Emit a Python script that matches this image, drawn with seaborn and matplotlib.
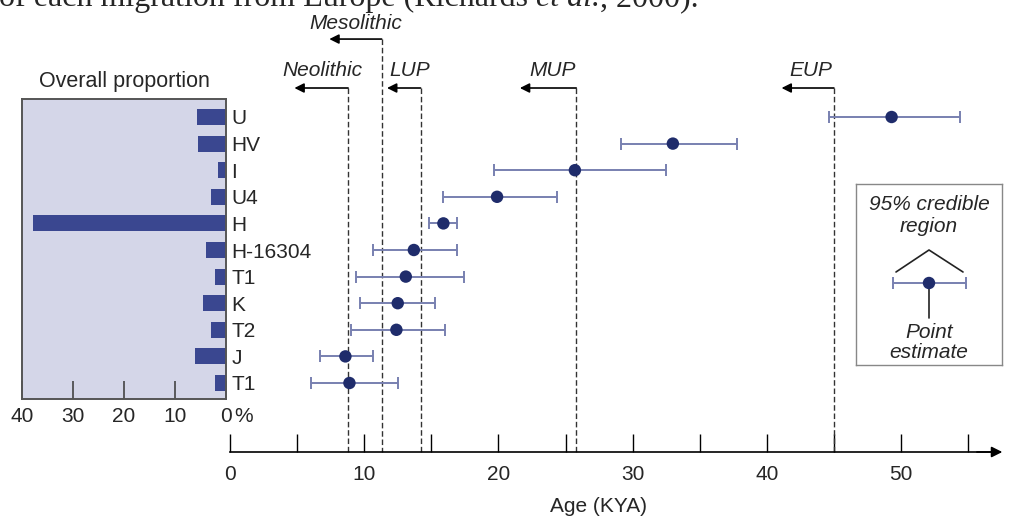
import matplotlib
matplotlib.use("Agg")
import matplotlib.pyplot as plt
from matplotlib.ticker import FixedLocator
import seaborn as sns
import numpy as np
import pandas as pd

# ---------------- data ----------------
haplogroups = ["U", "HV", "I", "U4", "H", "H-16304", "T1", "K", "T2", "J", "T1"]
proportion = [5.7, 5.4, 1.6, 2.9, 37.8, 4.0, 2.2, 4.6, 2.9, 6.1, 2.2]
age_point = [49.3, 33.0, 25.7, 19.9, 15.9, 13.7, 13.1, 12.5, 12.4, 8.6, 8.9]
age_low = [44.6, 29.1, 19.7, 15.9, 14.8, 10.65, 9.4, 9.7, 9.0, 6.7, 6.0]
age_high = [54.4, 37.8, 32.5, 24.4, 16.9, 16.9, 17.4, 15.3, 16.0, 10.65, 12.5]

periods = ["Neolithic", "Mesolithic", "LUP", "MUP", "EUP"]
period_start = [8.8, 11.3, 14.2, 25.8, 45.0]

prop_ticks = [40, 30, 20, 10, 0]
age_major = [0, 10, 20, 30, 40, 50]
age_minor = [5, 15, 25, 35, 45, 55]

# ---------------- style ----------------
sns.set_theme(style="white")
plt.rcParams["font.family"] = ["Liberation Sans", "DejaVu Sans"]

bar_color = "#3a4790"
panel_bg = "#d4d6e8"
point_color = "#1f2c6b"
err_color = "#7880b0"
dash_color = "#333333"

W, H = 1012, 518
fig = plt.figure(figsize=(W / 100, H / 100), dpi=100)
fig.patch.set_facecolor("white")


def fx(px):
    return px / W


def fy(py):
    return 1 - py / H


row_y0, row_dy = 117.0, 26.6
n = len(haplogroups)
idx = np.arange(n)

# ---------------- left panel ----------------
axL = fig.add_axes([fx(22), fy(399), (226 - 22) / W, (399 - 99) / H])
dfL = pd.DataFrame({"key": [str(i) for i in idx], "prop": proportion})
sns.barplot(data=dfL, x="prop", y="key", order=list(dfL["key"]), color=bar_color,
            saturation=1, width=0.6, orient="h", ax=axL, edgecolor="none",
            linewidth=0)
axL.set_facecolor(panel_bg)
axL.set_xlim(40, 0)
axL.set_ylim((399 - row_y0) / row_dy, (99 - row_y0) / row_dy)
for s in axL.spines.values():
    s.set_visible(True)
    s.set_color("#555555")
    s.set_linewidth(1.4)
axL.yaxis.tick_right()
axL.set_yticks(idx)
axL.set_yticklabels(haplogroups, fontsize=15)
axL.tick_params(axis="y", length=0, pad=4, right=True, left=False)
axL.set_xticks(prop_ticks)
axL.set_xticklabels([str(t) for t in prop_ticks])
axL.tick_params(axis="x", direction="in", length=13, width=1.2, color="#444444",
                labelsize=15, pad=6, bottom=True)
axL.set_xlabel("")
axL.set_ylabel("")
axL.set_title("Overall proportion", fontsize=15.5, pad=9)
axL.text(-1.6, -0.028, "%", transform=axL.get_xaxis_transform(), fontsize=15,
         ha="left", va="top")

# ---------------- right panel ----------------
axR = fig.add_axes([fx(230), fy(452), (1000 - 230) / W, (452 - 20) / H])
axR.patch.set_alpha(0)
xmax = (1000 - 230) / 13.42
axR.set_xlim(0, xmax)
ybot = (452 - row_y0) / row_dy
ytop = (20 - row_y0) / row_dy
axR.set_ylim(ybot, ytop)

# dashed period lines, arrows and labels
arrow_len = [4.0, 3.9, 2.5, 4.2, 3.9]
arrow_y = [-1.09, -2.93, -1.09, -1.09, -1.09]
label_dx = [-1.9, -1.9, -0.8, -1.8, -1.7]
label_y = [-1.74, -3.53, -1.74, -1.74, -1.74]
for name, x0, L, ay, ldx, ly in zip(periods, period_start, arrow_len, arrow_y,
                                    label_dx, label_y):
    axR.plot([x0, x0], [ay, ybot], color=dash_color, lw=1.0,
             dashes=(4, 2), clip_on=False, zorder=1)
    axR.annotate("", xy=(x0 - L, ay), xytext=(x0, ay),
                 arrowprops=dict(arrowstyle="-|>", color="black", lw=1.2,
                                 mutation_scale=14, shrinkA=0, shrinkB=0),
                 annotation_clip=False)
    axR.text(x0 + ldx, ly, name, fontsize=15, style="italic", ha="center",
             va="center", clip_on=False)

# error bars and points
pts = np.array(age_point)
lo = pts - np.array(age_low)
hi = np.array(age_high) - pts
axR.errorbar(pts, idx, xerr=[lo, hi], fmt="none", ecolor=err_color,
             elinewidth=1.4, capsize=4.5, capthick=1.4, zorder=2)
dfR = pd.DataFrame({"age": age_point, "row": idx})
sns.scatterplot(data=dfR, x="age", y="row", color=point_color, s=80,
                edgecolor="none", ax=axR, zorder=3, legend=False)

for side in ["left", "top", "right"]:
    axR.spines[side].set_visible(False)
axR.spines["bottom"].set_visible(True)
axR.spines["bottom"].set_color("black")
axR.spines["bottom"].set_linewidth(1.2)
axR.annotate("", xy=(1.003, 0), xytext=(0.97, 0), xycoords="axes fraction",
             arrowprops=dict(arrowstyle="-|>", color="black", lw=1.2,
                             mutation_scale=16, shrinkA=0, shrinkB=0),
             annotation_clip=False)
axR.set_yticks([])
axR.xaxis.set_major_locator(FixedLocator(age_major))
axR.xaxis.set_minor_locator(FixedLocator(age_minor))
axR.set_xticklabels([str(t) for t in age_major])
axR.tick_params(axis="x", which="both", direction="in", length=13, width=1.0,
                color="black", labelsize=15, pad=9.5, bottom=True)
axR.set_ylabel("")
axR.set_xlabel("Age (KYA)", fontsize=15)
axR.xaxis.set_label_coords((599 - 230) / 770, -0.104)

# ---------------- legend box ----------------
axI = fig.add_axes([fx(856), fy(365), (1002 - 856) / W, (365 - 184) / H])
axI.set_xlim(0, 146)
axI.set_ylim(181, 0)
axI.set_xticks([])
axI.set_yticks([])
axI.patch.set_alpha(0)
for s in axI.spines.values():
    s.set_visible(True)
    s.set_color("#888888")
    s.set_linewidth(1.0)
axI.text(73, 21, "95% credible", fontsize=15, style="italic", ha="center", va="center")
axI.text(73, 43, "region", fontsize=15, style="italic", ha="center", va="center")
axI.plot([40, 73, 107], [88, 66, 88], color="#222222", lw=1.2)
axI.errorbar([73], [99], xerr=[[36], [37]], fmt="none", ecolor=err_color,
             elinewidth=1.4, capsize=4.5, capthick=1.4)
axI.plot([73, 73], [99, 134], color="#222222", lw=1.2)
axI.scatter([73], [99], s=80, color=point_color, zorder=3, edgecolor="none")
axI.text(73, 149, "Point", fontsize=15, style="italic", ha="center", va="center")
axI.text(73, 169, "estimate", fontsize=15, style="italic", ha="center", va="center")

# ---------------- cropped caption line at top ----------------
fig.canvas.draw()
r = fig.canvas.get_renderer()
cap_y = fy(6)
t1 = fig.text(fx(-1), cap_y, "of each migration from Europe (Richards ",
              family="Liberation Serif", fontsize=23, va="baseline")
fig.canvas.draw()
x1 = t1.get_window_extent(r).x1
t2 = fig.text(x1 / W, cap_y, "et al.", family="Liberation Serif",
              style="italic", fontsize=23, va="baseline")
fig.canvas.draw()
x2 = t2.get_window_extent(r).x1
fig.text(x2 / W, cap_y, ", 2000).", family="Liberation Serif", fontsize=23,
         va="baseline")

fig.savefig("out.png", dpi=100, facecolor="white")
